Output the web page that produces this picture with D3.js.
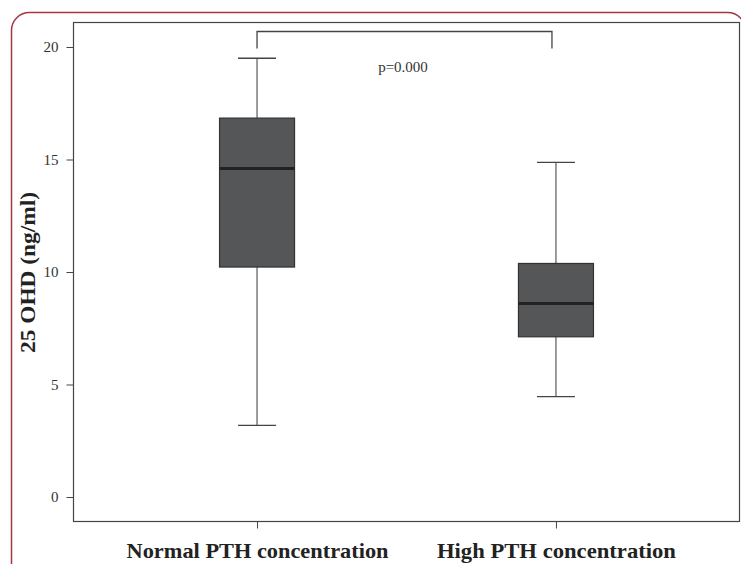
<!DOCTYPE html>
<html>
<head>
<meta charset="utf-8">
<script src="https://cdn.jsdelivr.net/npm/d3@7"></script>
<style>
  body { margin: 0; background: #fff; }
  svg { display: block; }
</style>
</head>
<body>
<svg id="chart"></svg>
<script>
// data
const groups = ["Normal PTH concentration", "High PTH concentration"];
const whiskerLow = [3.18, 4.46];
const q1 = [10.22, 7.12];
const median = [14.6, 8.6];
const q3 = [16.84, 10.38];
const whiskerHigh = [19.5, 14.87];
const yTicks = [0, 5, 10, 15, 20];
const pLabel = "p=0.000";

const W = 741, H = 564;
const frame = {left: 73.5, top: 22.5, right: 739.5, bottom: 521.5};

const svg = d3.select("#chart").attr("width", W).attr("height", H);

// rounded red border around the whole figure
svg.append("rect")
  .attr("x", 11.5).attr("y", 12.5)
  .attr("width", 734).attr("height", 575)
  .attr("rx", 18)
  .attr("fill", "none")
  .attr("stroke", "#a3373d")
  .attr("stroke-width", 1.5);

const x = d3.scalePoint()
  .domain(groups)
  .range([frame.left, frame.right])
  .padding(0.614);

const y = d3.scaleLinear()
  .domain([0, 20])
  .range([497, 47]);

const serif = "'Liberation Serif', 'DejaVu Serif', serif";
// label widths measured on the reference (its font is wider than ours)
const labelWidth = {"Normal PTH concentration": 262, "High PTH concentration": 239};

// plot frame
svg.append("rect")
  .attr("x", frame.left).attr("y", frame.top)
  .attr("width", frame.right - frame.left)
  .attr("height", frame.bottom - frame.top)
  .attr("fill", "none")
  .attr("stroke", "#444")
  .attr("stroke-width", 1.2);

// y axis
const yAxis = svg.append("g")
  .attr("transform", `translate(${frame.left},0)`)
  .call(d3.axisLeft(y).tickValues(yTicks).tickSize(7).tickPadding(8));
yAxis.select(".domain").remove();
yAxis.selectAll(".tick line").attr("stroke", "#444");
yAxis.selectAll(".tick text")
  .attr("fill", "#333")
  .style("font-family", serif)
  .style("font-size", "15px");

// x axis
const xAxis = svg.append("g")
  .attr("transform", `translate(0,${frame.bottom})`)
  .call(d3.axisBottom(x).tickSize(7).tickPadding(14));
xAxis.select(".domain").remove();
xAxis.selectAll(".tick line").attr("stroke", "#444");
xAxis.selectAll(".tick text")
  .attr("fill", "#222")
  .attr("textLength", d => labelWidth[d])
  .attr("lengthAdjust", "spacingAndGlyphs")
  .style("font-family", serif)
  .style("font-weight", "bold")
  .style("font-size", "22px");

// y title
svg.append("text")
  .attr("transform", `translate(35,272.5) rotate(-90)`)
  .attr("text-anchor", "middle")
  .attr("textLength", 161)
  .attr("lengthAdjust", "spacingAndGlyphs")
  .attr("fill", "#222")
  .style("font-family", serif)
  .style("font-weight", "bold")
  .style("font-size", "22px")
  .text("25 OHD (ng/ml)");

const boxW = 75, capW = 38;

const boxes = svg.append("g").selectAll("g")
  .data(groups.map((g, i) => ({
    g, lo: whiskerLow[i], q1: q1[i], med: median[i], q3: q3[i], hi: whiskerHigh[i]
  })))
  .join("g");

// whiskers
boxes.append("line")
  .attr("x1", d => x(d.g)).attr("x2", d => x(d.g))
  .attr("y1", d => y(d.hi)).attr("y2", d => y(d.q3))
  .attr("stroke", "#666").attr("stroke-width", 1.3);
boxes.append("line")
  .attr("x1", d => x(d.g)).attr("x2", d => x(d.g))
  .attr("y1", d => y(d.q1)).attr("y2", d => y(d.lo))
  .attr("stroke", "#666").attr("stroke-width", 1.3);
// caps
boxes.append("line")
  .attr("x1", d => x(d.g) - capW / 2).attr("x2", d => x(d.g) + capW / 2)
  .attr("y1", d => y(d.hi)).attr("y2", d => y(d.hi))
  .attr("stroke", "#444").attr("stroke-width", 1.3);
boxes.append("line")
  .attr("x1", d => x(d.g) - capW / 2).attr("x2", d => x(d.g) + capW / 2)
  .attr("y1", d => y(d.lo)).attr("y2", d => y(d.lo))
  .attr("stroke", "#444").attr("stroke-width", 1.3);

// box
boxes.append("rect")
  .attr("x", d => x(d.g) - boxW / 2)
  .attr("y", d => y(d.q3))
  .attr("width", boxW)
  .attr("height", d => y(d.q1) - y(d.q3))
  .attr("fill", "#555657")
  .attr("stroke", "#333")
  .attr("stroke-width", 1.2);

// median
boxes.append("line")
  .attr("x1", d => x(d.g) - boxW / 2).attr("x2", d => x(d.g) + boxW / 2)
  .attr("y1", d => y(d.med)).attr("y2", d => y(d.med))
  .attr("stroke", "#222").attr("stroke-width", 3);

// significance bracket
const bx1 = x(groups[0]), bx2 = x(groups[1]) - 4;
svg.append("path")
  .attr("d", `M${bx1},${y(20) + 1.5}V${frame.top + 9}H${bx2}V${y(20) + 1.5}`)
  .attr("fill", "none")
  .attr("stroke", "#444")
  .attr("stroke-width", 1.3);

svg.append("text")
  .attr("x", 403).attr("y", 72)
  .attr("text-anchor", "middle")
  .attr("fill", "#333")
  .style("font-family", serif)
  .style("font-size", "15px")
  .text(pLabel);
</script>
</body>
</html>
